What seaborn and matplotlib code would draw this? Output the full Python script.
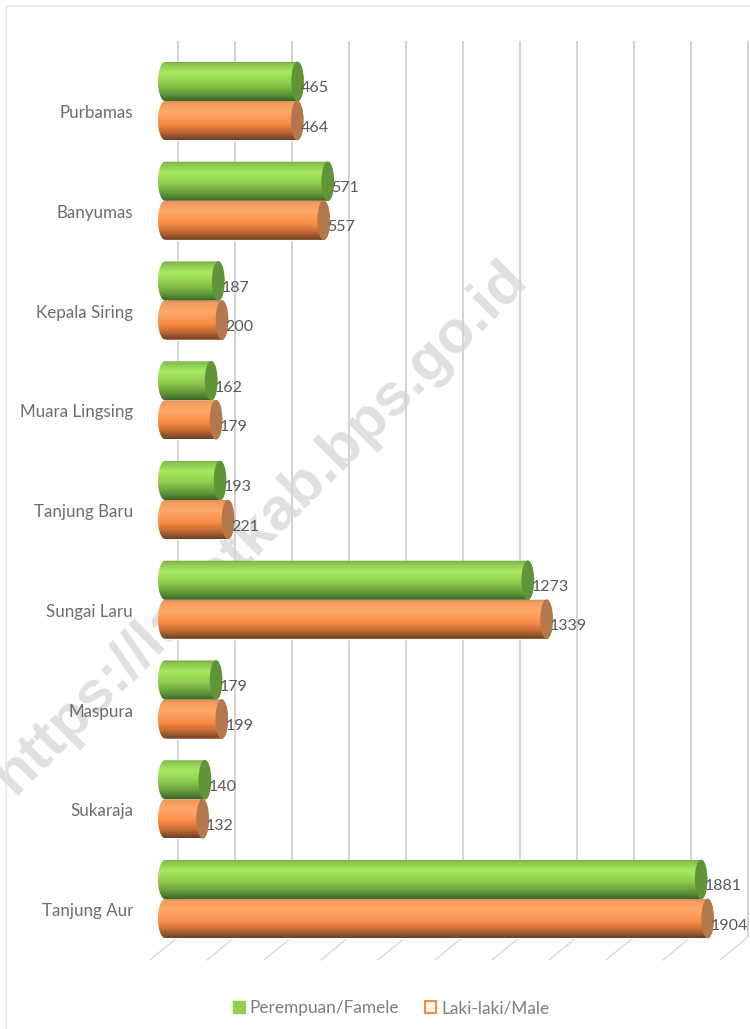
import numpy as np
import pandas as pd
import matplotlib
matplotlib.use("Agg")
import matplotlib.pyplot as plt
import seaborn as sns
from matplotlib.colors import LinearSegmentedColormap
from matplotlib.lines import Line2D
from matplotlib.patches import Ellipse, Patch
from matplotlib.path import Path
from matplotlib.transforms import Affine2D, IdentityTransform

villages = ["Purbamas", "Banyumas", "Kepala Siring", "Muara Lingsing", "Tanjung Baru",
            "Sungai Laru", "Maspura", "Sukaraja", "Tanjung Aur"]
female = [465, 571, 187, 162, 193, 1273, 179, 140, 1881]
male = [464, 557, 200, 179, 221, 1339, 199, 132, 1904]
series_names = ["Perempuan/Famele", "Laki-laki/Male"]
x_ticks = list(range(0, 2001, 200))
watermark = "https://lahatkab.bps.go.id"

W, H = 750, 1029
PX = 0.72  # points per pixel at dpi 100
sns.set_theme(style="white")
plt.rcParams["font.family"] = ["Lato", "DejaVu Sans"]

df = pd.DataFrame({
    "village": villages * 2,
    "value": female + male,
    "series": [series_names[0]] * len(villages) + [series_names[1]] * len(villages),
})

fig = plt.figure(figsize=(W / 100, H / 100), dpi=100, facecolor="white")
ax = fig.add_axes([150 / W, 0, 600 / W, 1])
sns.barplot(data=df, y="village", x="value", hue="series", order=villages, hue_order=series_names,
            palette=["#8fd14f", "#f58a42"], width=0.782, gap=0, legend=False, ax=ax, orient="h",
            errorbar=None, saturation=1)

sx = 0.285       # px per unit
x0_px = 165.0
step = 99.75
y0_px = 101.0
ax.set_xlim((150 - x0_px) / sx, (W - x0_px) / sx)
ax.set_ylim((H - y0_px) / step, -y0_px / step)
ax.set_xlabel("")
ax.set_ylabel("")
sns.despine(ax=ax, left=True, bottom=True, top=True, right=True)
ax.set_xticks([])
ax.set_yticks(range(len(villages)), villages)
ax.tick_params(axis="y", length=0, pad=17 * PX, labelsize=17 * PX, labelcolor="#6e6e6e")
ax.patch.set_alpha(0)
for lab in ax.get_yticklabels():
    lab.set_transform(lab.get_transform() + Affine2D().translate(0, -10.5))

# back wall gridlines and floor strokes
xt = ax.get_xaxis_transform()
wall = xt + Affine2D().translate(13.0, 0)
for v in x_ticks:
    ax.plot([v, v], [1 - 937 / H, 1 - 41 / H], transform=wall, color="#d3d3d3", lw=2 * PX,
            zorder=0.7, clip_on=False, solid_capstyle="butt")
    front = xt.transform((v, 1 - 960 / H)) + np.array([-15, 0])
    back = xt.transform((v, 1 - 937 / H)) + np.array([13.0, 0])
    ax.plot([front[0], back[0]], [front[1], back[1]], transform=IdentityTransform(),
            color="#d9d9d9", lw=1.4 * PX, zorder=0.7, clip_on=False)

ax.text(261 / W, 1 - 527 / H, watermark, transform=fig.transFigure, rotation=45, rotation_mode="anchor",
        ha="center", va="center", fontsize=60 * PX, fontweight="bold", family="Liberation Sans",
        color="#e0e0e0", zorder=0.5, clip_on=False)

cm_green = LinearSegmentedColormap.from_list("g", [
    (0, "#6f9a4a"), (0.05, "#86c04e"), (0.28, "#a6ea5e"), (0.55, "#8fce50"),
    (0.8, "#659f3c"), (1, "#3f6429")])
cm_orange = LinearSegmentedColormap.from_list("o", [
    (0, "#c08a64"), (0.06, "#f09a5c"), (0.28, "#ffa969"), (0.58, "#fb8e48"),
    (0.8, "#c46a32"), (1, "#6a4128")])
grad = np.linspace(0, 1, 64)[:, None]
cap_colors = ["#5f9437", "#b5774c"]
rx = 7 / sx
theta = np.linspace(-np.pi / 2, np.pi / 2, 40)

for idx, (cont, cmap, cap, values) in enumerate(zip(ax.containers, [cm_green, cm_orange], cap_colors, [female, male])):
    for bar, val in zip(cont, values):
        x, y, w, h = bar.get_x(), bar.get_y(), bar.get_width(), bar.get_height()
        yc = y + h / 2
        left = np.column_stack([x - rx * np.cos(theta), yc + h / 2 * np.sin(theta)])
        right = np.column_stack([x + w + 0.9 * rx * np.cos(theta), yc + h / 2 * np.sin(theta)])
        poly = np.vstack([left, right[::-1]])
        path = Path(np.vstack([poly, poly[:1]]), closed=True)
        im = ax.imshow(grad, cmap=cmap, extent=(x - rx, x + w + rx, y + h, y), aspect="auto",
                       zorder=2 + idx * 0.1, interpolation="bilinear", vmin=0, vmax=1)
        im.set_clip_path(path, transform=ax.transData)
        ax.add_patch(Ellipse((x + w, yc), 1.8 * rx, h * 1.02, facecolor=cap, edgecolor="none",
                             zorder=2.05 + idx * 0.1))
        ax.annotate(str(val), (x + w, yc), xytext=(3.5 * PX, -7 * PX), textcoords="offset points",
                    ha="left", va="center", fontsize=16 * PX, color="#595959", zorder=3)

ax.set_xlim((150 - x0_px) / sx, (W - x0_px) / sx)
ax.set_ylim((H - y0_px) / step, -y0_px / step)

handles = [Patch(facecolor="#92d050", edgecolor="#92d050", label=series_names[0]),
           Patch(facecolor="#fff3ea", edgecolor="#f58a42", linewidth=2 * PX, label=series_names[1])]
fig.legend(handles=handles, loc="center", bbox_to_anchor=(391.5 / W, 1 - 1008 / H), ncol=2, frameon=False,
           fontsize=17.3 * PX, labelcolor="#7f7f7f", handlelength=0.64, handleheight=0.64,
           handletextpad=0.3, columnspacing=1.5)

fig.add_artist(Line2D([5.5 / W, 5.5 / W, 1], [0, 1 - 5.5 / H, 1 - 5.5 / H], transform=fig.transFigure,
                      color="#e6e6e6", lw=1.5 * PX))

fig.savefig("out.png", dpi=100, facecolor="white")
